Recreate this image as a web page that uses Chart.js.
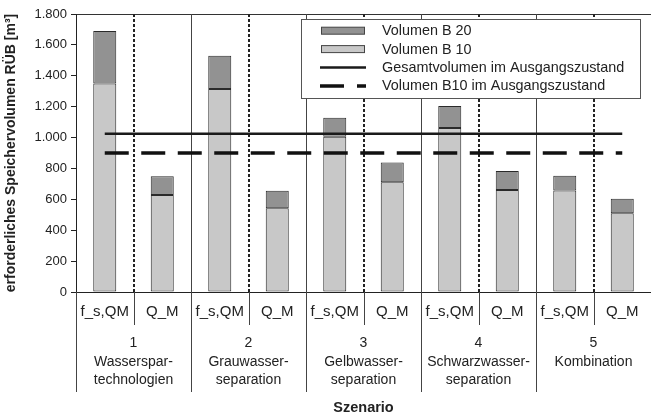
<!DOCTYPE html>
<html>
<head>
<meta charset="utf-8">
<script src="https://cdn.jsdelivr.net/npm/chart.js@4.4.1/dist/chart.umd.min.js"></script>
<style>
    html, body { margin: 0; padding: 0; background: #fff; }
</style>
</head>
<body>
<canvas id="speicherChart" width="651" height="419"></canvas>
<script>
// Daten aus der Abbildung
const varianten = ["f_s,QM", "Q_M", "f_s,QM", "Q_M", "f_s,QM", "Q_M", "f_s,QM", "Q_M", "f_s,QM", "Q_M"];
const szenarien = [
    ["1", "Wasserspar-", "technologien"],
    ["2", "Grauwasser-", "separation"],
    ["3", "Gelbwasser-", "separation"],
    ["4", "Schwarzwasser-", "separation"],
    ["5", "Kombination"],
];
const volumenB10 = [1350, 628, 1315, 543, 1005, 710, 1062, 660, 658, 510];
const volumenB20 = [340, 122, 215, 112, 123, 128, 143, 123, 95, 93];
const gesamtAusgang = [1025, 1025, 1025, 1025, 1025, 1025, 1025, 1025, 1025, 1025];
const b10Ausgang = [900, 900, 900, 900, 900, 900, 900, 900, 900, 900];
const yMax = 1800;
const yStep = 200;

// Tausenderpunkt wie im Original
const formatDe = (v) => String(v).replace(/\B(?=(\d{3})+(?!\d))/g, ".");

Chart.defaults.font.family = "'Liberation Sans', Arial, sans-serif";
Chart.defaults.font.size = 13;
Chart.defaults.color = "#222";

// Trennlinien zwischen Varianten / Szenarien
const szenarioLinien = {
    id: "szenarioLinien",
    beforeDatasetsDraw(chart) {
        const { ctx, chartArea: a, scales: { x } } = chart;
        ctx.save();
        for (let i = 1; i < varianten.length; i++) {
            const mid = (x.getPixelForValue(i - 1) + x.getPixelForValue(i)) / 2;
            ctx.beginPath();
            if (i % 2) {
                ctx.setLineDash([3, 2]);
                ctx.lineWidth = 2;
                ctx.strokeStyle = "#222";
                ctx.moveTo(Math.round(mid), a.top);
                ctx.lineTo(Math.round(mid), a.bottom);
            } else {
                ctx.setLineDash([]);
                ctx.lineWidth = 1;
                ctx.strokeStyle = "#444";
                ctx.moveTo(Math.round(mid) + 0.5, a.top);
                ctx.lineTo(Math.round(mid) + 0.5, a.bottom);
            }
            ctx.stroke();
        }
        ctx.restore();
    },
    afterDraw(chart) {
        const { ctx, chartArea: a, scales: { x } } = chart;
        const w = x.getPixelForValue(1) - x.getPixelForValue(0);
        ctx.save();
        ctx.strokeStyle = "#444";
        ctx.lineWidth = 1;
        for (let i = 0; i < varianten.length; i++) {
            const px = Math.round(x.getPixelForValue(i) - w / 2) + 0.5;
            const len = i % 2 ? 33 : 100;
            ctx.beginPath();
            ctx.moveTo(px, a.bottom);
            ctx.lineTo(px, a.bottom + len);
            ctx.stroke();
        }
        ctx.restore();
    },
};

// Legende als Kasten im Diagramm
const legendeKasten = {
    id: "legendeKasten",
    afterDatasetsDraw(chart) {
        const { ctx, chartArea: a } = chart;
        const ds = chart.data.datasets;
        const reihenfolge = [1, 0, 2, 3];
        const bx = a.right - 350, by = a.top + 5, bw = 339, bh = 79;
        ctx.save();
        ctx.fillStyle = "#fff";
        ctx.fillRect(bx, by, bw, bh);
        ctx.strokeStyle = "#555";
        ctx.lineWidth = 1;
        ctx.strokeRect(bx + 0.5, by + 0.5, bw, bh);
        ctx.font = "14.4px 'Liberation Sans', Arial, sans-serif";
        ctx.textBaseline = "middle";
        reihenfolge.forEach((idx, k) => {
            const d = ds[idx];
            const ry = by + 11.7 + k * 18.4;
            if (d.type === "line") {
                ctx.beginPath();
                ctx.setLineDash(d.borderDash ? [24, 13] : []);
                ctx.lineWidth = d.borderWidth;
                ctx.strokeStyle = d.borderColor;
                ctx.moveTo(bx + 19, ry);
                ctx.lineTo(bx + 65, ry);
                ctx.stroke();
                ctx.setLineDash([]);
            } else {
                ctx.fillStyle = d.backgroundColor;
                ctx.fillRect(bx + 20, ry - 3.5, 43, 7);
                ctx.lineWidth = 1;
                ctx.strokeStyle = "#444";
                ctx.strokeRect(bx + 20.5, ry - 3.5, 43, 7);
            }
            ctx.fillStyle = "#222";
            ctx.fillText(d.label, bx + 81, ry + 0.5);
        });
        ctx.restore();
    },
};

const ctx = document.getElementById("speicherChart");

new Chart(ctx, {
    type: "bar",
    data: {
        labels: varianten,
        datasets: [
            {
                label: "Volumen B 10",
                data: volumenB10,
                backgroundColor: "#c8c8c8",
                borderColor: "#2a2a2a",
                borderWidth: 1,
                borderSkipped: false,
                stack: "rueb",
                barPercentage: 0.4,
                categoryPercentage: 1,
                order: 2,
            },
            {
                label: "Volumen B 20",
                data: volumenB20,
                backgroundColor: "#929292",
                borderColor: "#2a2a2a",
                borderWidth: 1,
                borderSkipped: false,
                stack: "rueb",
                barPercentage: 0.4,
                categoryPercentage: 1,
                order: 2,
            },
            {
                type: "line",
                label: "Gesamtvolumen im Ausgangszustand",
                data: gesamtAusgang,
                borderColor: "#1a1a1a",
                borderWidth: 2.5,
                pointRadius: 0,
                stack: "ref1",
                order: 0,
            },
            {
                type: "line",
                label: "Volumen B10 im Ausgangszustand",
                data: b10Ausgang,
                borderColor: "#111",
                borderWidth: 3.5,
                borderDash: [24, 12.5],
                pointRadius: 0,
                stack: "ref2",
                order: 0,
            },
        ],
    },
    options: {
        responsive: false,
        animation: false,
        devicePixelRatio: 1,
        layout: { padding: { top: 14, right: 0, left: 0, bottom: 0 } },
        plugins: {
            legend: { display: false },
            tooltip: { enabled: false },
        },
        scales: {
            x: {
                stacked: true,
                weight: 0,
                grid: { display: false, drawTicks: false },
                border: { display: true, color: "#222", width: 1 },
                ticks: { padding: 11, maxRotation: 0, autoSkip: false, font: { size: 15 } },
                afterFit: (s) => { s.height = 36; },
            },
            x2: {
                type: "category",
                labels: szenarien,
                position: "bottom",
                weight: 1,
                offset: true,
                grid: { display: false, drawTicks: false },
                border: { display: false },
                ticks: {
                    padding: 6,
                    maxRotation: 0,
                    autoSkip: false,
                    font: { size: 14, lineHeight: 1.32 },
                },
                title: {
                    display: true,
                    text: "Szenario",
                    font: { size: 14.5, weight: "bold" },
                    padding: { top: 4, bottom: 2 },
                },
                afterFit: (s) => { s.height = 91; },
            },
            y: {
                stacked: true,
                min: 0,
                max: yMax,
                ticks: {
                    stepSize: yStep,
                    padding: 4,
                    callback: (v) => formatDe(v),
                },
                grid: {
                    color: (c) => (c.tick && c.tick.value === yMax ? "#333" : "rgba(0,0,0,0)"),
                    tickColor: "#222",
                    tickLength: 5,
                },
                border: { color: "#222", width: 1 },
                title: {
                    display: true,
                    text: "erforderliches Speichervolumen RÜB [m³]",
                    font: { size: 14, weight: "bold" },
                    padding: { top: 3, bottom: 4 },
                },
                afterFit: (s) => { s.width = 76; },
            },
        },
    },
    plugins: [szenarioLinien, legendeKasten],
});
</script>
</body>
</html>
